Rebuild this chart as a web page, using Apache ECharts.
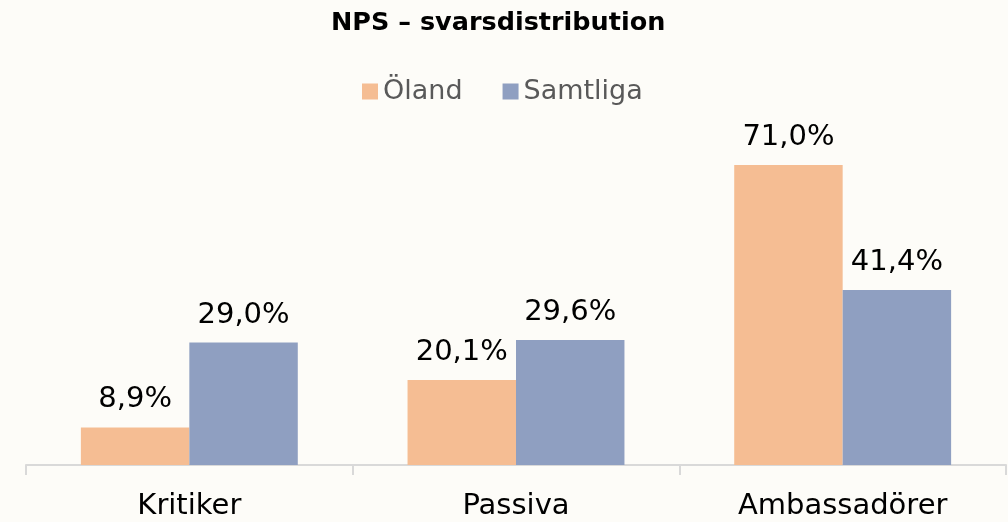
<!DOCTYPE html>
<html>
<head>
<meta charset="utf-8">
<script src="https://cdn.jsdelivr.net/npm/echarts@6/dist/echarts.min.js"></script>
<style>
  html, body { margin: 0; padding: 0; background: #FDFCF8; }
  #chart { width: 1008px; height: 522px; }
</style>
</head>
<body>
<div id="chart"></div>
<script>
// NPS answer distribution: Öland vs all respondents (percent)
const categories = ['Kritiker', 'Passiva', 'Ambassadörer'];
const olandValues = [8.9, 20.1, 71.0];
const samtligaValues = [29.0, 29.6, 41.4];
const seriesNames = ['Öland', 'Samtliga'];

const FONT = '"DejaVu Sans", "Noto Sans", sans-serif';
const fmt = p => p.value.toFixed(1).replace('.', ',') + '%';

const valueLabel = {
  show: true, position: 'top', distance: 13, formatter: fmt,
  fontFamily: FONT, fontSize: 29, color: '#000'
};

const chart = echarts.init(document.getElementById('chart'), null, { renderer: 'canvas' });
chart.setOption({
  backgroundColor: '#FDFCF8',
  animation: false,
  title: {
    text: 'NPS – svarsdistribution',
    left: 326,
    top: 5,
    textStyle: { fontFamily: FONT, fontWeight: 'bold', fontSize: 25.5, color: '#000' }
  },
  legend: {
    top: 73,
    left: 357,
    itemWidth: 16,
    itemHeight: 16,
    itemGap: 40,
    icon: 'rect',
    textStyle: { fontFamily: FONT, fontSize: 27, color: '#595959' },
    data: seriesNames
  },
  grid: { left: 26, right: 2, top: 127, bottom: 57, containLabel: false },
  xAxis: {
    type: 'category',
    data: categories,
    axisLine: { lineStyle: { color: '#D9D9D9', width: 2 } },
    axisTick: { show: true, length: 10, lineStyle: { color: '#D9D9D9', width: 2 } },
    axisLabel: { fontFamily: FONT, fontSize: 29, color: '#000', margin: 27 }
  },
  yAxis: {
    type: 'value',
    min: 0,
    max: 80,
    show: false
  },
  series: [
    {
      name: seriesNames[0],
      type: 'bar',
      data: olandValues,
      barGap: '0%',
      barCategoryGap: '33.6%',
      itemStyle: { color: '#F5BD93' },
      label: valueLabel
    },
    {
      name: seriesNames[1],
      type: 'bar',
      data: samtligaValues,
      barGap: '0%',
      barCategoryGap: '33.6%',
      itemStyle: { color: '#8F9FC1' },
      label: valueLabel
    }
  ]
});
</script>
</body>
</html>
